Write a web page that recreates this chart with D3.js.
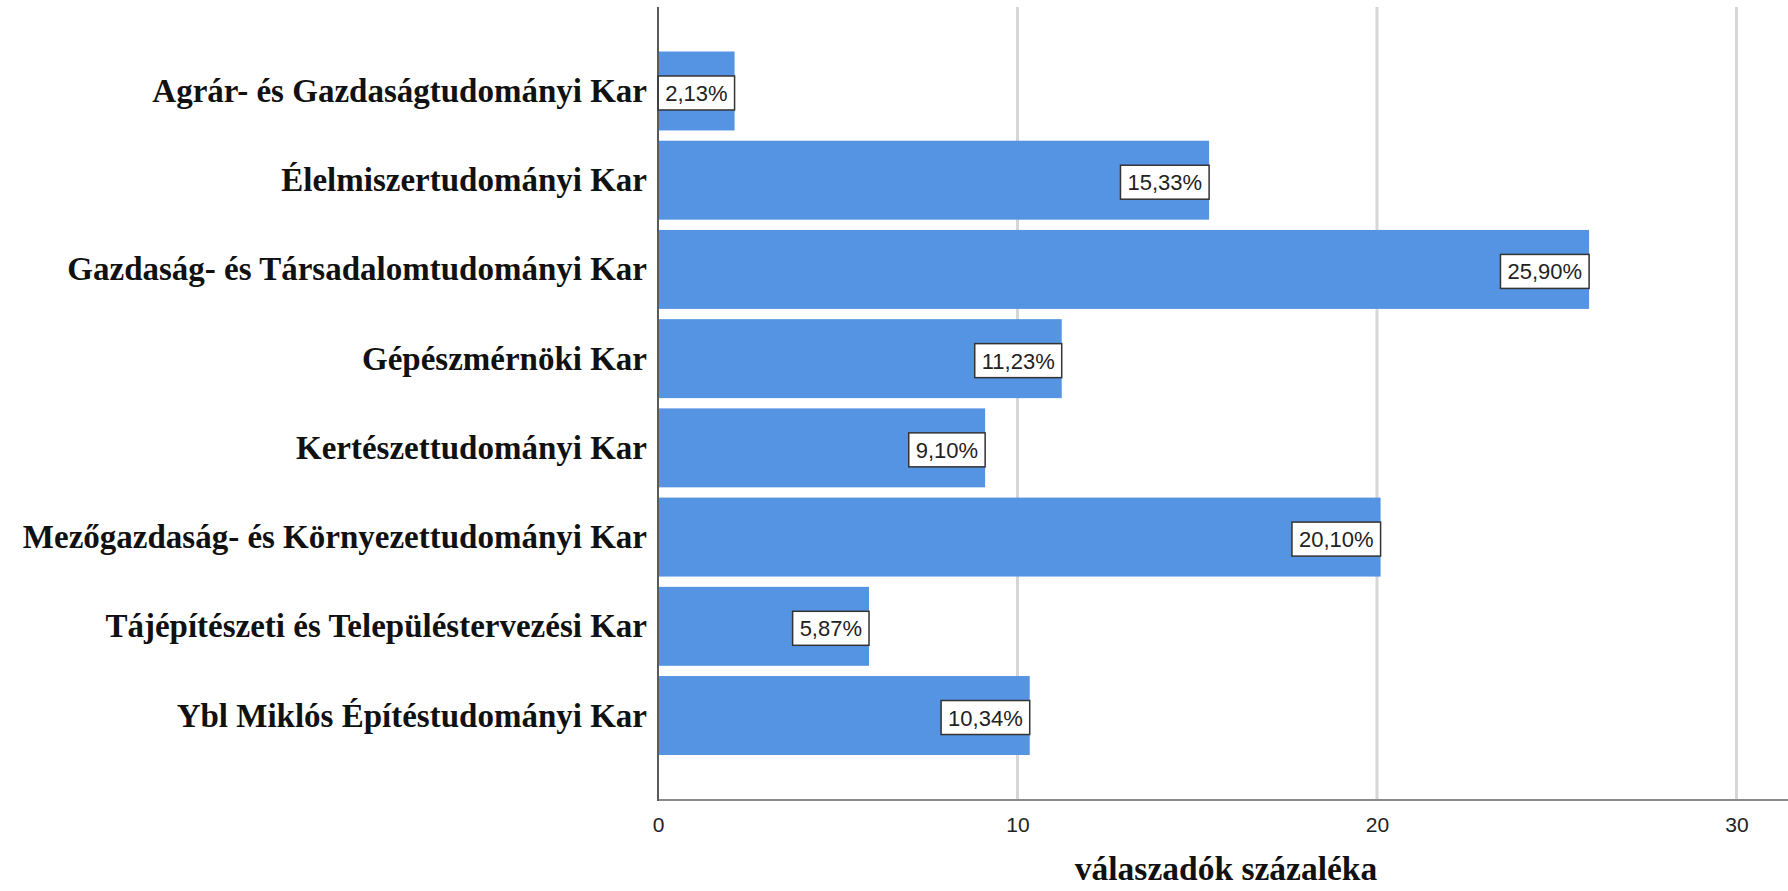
<!DOCTYPE html>
<html><head><meta charset="utf-8">
<script src="https://cdn.jsdelivr.net/npm/d3@7"></script>
<style>html,body{margin:0;padding:0;background:#fff;overflow:hidden}</style>
</head><body>
<svg id="chart" width="1788" height="891"></svg>
<script>
const categories = [
  "Agrár- és Gazdaságtudományi Kar",
  "Élelmiszertudományi Kar",
  "Gazdaság- és Társadalomtudományi Kar",
  "Gépészmérnöki Kar",
  "Kertészettudományi Kar",
  "Mezőgazdaság- és Környezettudományi Kar",
  "Tájépítészeti és Településtervezési Kar",
  "Ybl Miklós Építéstudományi Kar"
];
const values = [2.13, 15.33, 25.90, 11.23, 9.10, 20.10, 5.87, 10.34];
const tickValues = [0, 10, 20, 30];
const axisTitle = "válaszadók százaléka";

(function () {
const svg = d3.select("#chart");
const pLeft = 658, pRight = 1794, pTop = 7, pBottom = 800;

const x = d3.scaleLinear().domain([0, 31.6]).range([pLeft, pRight]);
const y = d3.scaleBand().domain(categories).range([51.5, 755]).paddingInner(0.115).paddingOuter(0);

// gridlines
svg.append("g").selectAll("line").data(tickValues.filter(d => d > 0)).join("line")
  .attr("x1", d => x(d)).attr("x2", d => x(d))
  .attr("y1", pTop).attr("y2", pBottom)
  .attr("stroke", "#d6d6d6").attr("stroke-width", 3);

// bars
svg.append("g").selectAll("rect").data(values).join("rect")
  .attr("x", x(0))
  .attr("y", (d, i) => y(categories[i]))
  .attr("width", d => x(d) - x(0))
  .attr("height", y.bandwidth())
  .attr("fill", "#5594e2");

// axes lines
svg.append("line").attr("x1", pLeft).attr("x2", 1788).attr("y1", pBottom).attr("y2", pBottom)
  .attr("stroke", "#8a8a8a").attr("stroke-width", 2);
svg.append("line").attr("x1", pLeft).attr("x2", pLeft).attr("y1", pTop).attr("y2", pBottom + 1)
  .attr("stroke", "#5a5a5a").attr("stroke-width", 2);

// x axis tick labels
const xAxis = d3.axisBottom(x).tickValues(tickValues).tickSize(0).tickPadding(0).tickFormat(d3.format("d"));
const gx = svg.append("g").attr("transform", `translate(0,${pBottom})`).call(xAxis);
gx.select(".domain").remove();
gx.selectAll("text")
  .attr("y", 32).attr("dy", 0)
  .attr("font-family", "'Liberation Sans', Arial, sans-serif")
  .attr("font-size", 21).attr("fill", "#222");

// category labels
svg.append("g").selectAll("text").data(categories).join("text")
  .attr("x", pLeft - 11)
  .attr("y", d => y(d) + y.bandwidth() / 2 + 11)
  .attr("text-anchor", "end")
  .attr("font-family", "'Liberation Serif', 'Times New Roman', serif")
  .attr("font-weight", "bold")
  .attr("font-size", 33)
  .attr("fill", "#111")
  .text(d => d);

// value labels
const fmt = v => v.toFixed(2).replace(".", ",") + "%";
const lab = svg.append("g").selectAll("g").data(values).join("g");
lab.each(function(d, i) {
  const g = d3.select(this);
  const cy = y(categories[i]) + y.bandwidth() / 2 + 2;
  const t = g.append("text")
    .attr("font-family", "'Liberation Sans', Arial, sans-serif")
    .attr("font-size", 22).attr("fill", "#222")
    .attr("text-anchor", "end")
    .attr("x", x(d) - 7)
    .attr("y", cy + 8)
    .text(fmt(d));
  const w = t.node().getComputedTextLength();
  g.insert("rect", "text")
    .attr("x", x(d) - w - 14).attr("y", cy - 17)
    .attr("width", w + 14).attr("height", 34)
    .attr("fill", "#fff").attr("stroke", "#333").attr("stroke-width", 1.5);
});

// axis title
svg.append("text")
  .attr("x", (pLeft + pRight) / 2).attr("y", 880)
  .attr("text-anchor", "middle")
  .attr("font-family", "'Liberation Serif', 'Times New Roman', serif")
  .attr("font-weight", "bold").attr("font-size", 33.5).attr("fill", "#111")
  .text(axisTitle);
})();
</script>
</body></html>
